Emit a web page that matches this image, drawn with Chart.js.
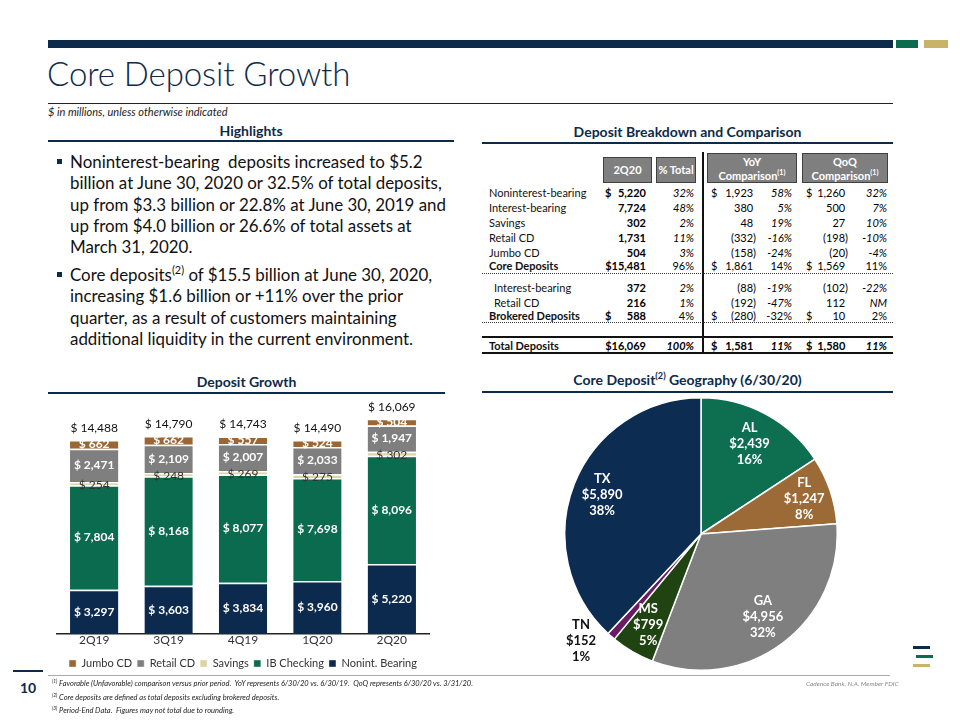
<!DOCTYPE html>
<html><head><meta charset="utf-8">
<script src="https://cdn.jsdelivr.net/npm/chart.js@4.4.1/dist/chart.umd.min.js"></script>
<style>
html,body{margin:0;padding:0;background:#fff;}
body{width:960px;height:720px;position:relative;overflow:hidden;font-family:Lato,"Open Sans",sans-serif;color:#000;}
.abs{position:absolute;}
.h2{font-weight:bold;font-size:14px;color:#0c2a4a;text-align:center;}
.rule{position:absolute;height:2px;background:#0c2a4a;}
#tbl div{position:absolute;font-size:11px;white-space:nowrap;line-height:13px;}
.hb{background:#7f7f7f;color:#fff;border:1px solid #404040;font-weight:bold;font-size:11px;text-align:center;box-sizing:border-box;}
.dot{position:absolute;left:482px;width:411px;border-top:1.5px dotted #333;height:0;}
.bul{position:absolute;left:70px;width:390px;font-size:16.9px;line-height:21.25px;color:#111;white-space:nowrap;}
.bul:before{content:"";position:absolute;left:-13px;top:8px;width:5px;height:5px;background:#0c2a4a;}
sup{font-size:65%;line-height:0;}
.fn{position:absolute;left:52px;font-size:7.5px;font-style:italic;color:#222;}
</style></head>
<body>
<!-- header -->
<div class="abs" style="left:48px;top:40px;width:845px;height:8px;background:#0c2a4a"></div>
<div class="abs" style="left:896px;top:40px;width:22px;height:8px;background:#0a6b4f"></div>
<div class="abs" style="left:924px;top:40px;width:24px;height:8px;background:#c9b36a"></div>
<div class="abs" style="left:47px;top:53px;font-size:33px;color:#0c2a4a;font-weight:300;letter-spacing:-0.1px">Core Deposit Growth</div>
<div class="abs" style="left:48px;top:103px;width:845px;height:1px;background:#222"></div>
<div class="abs" style="left:48px;top:105px;font-size:11px;font-style:italic;color:#222">$ in millions, unless otherwise indicated</div>

<div class="abs h2" style="left:48px;top:122px;width:406px">Highlights</div>
<div class="rule" style="left:48px;top:140px;width:406px"></div>
<div class="abs h2" style="left:482px;top:123px;width:411px">Deposit Breakdown and Comparison</div>
<div class="rule" style="left:482px;top:142px;width:411px"></div>

<div class="bul" style="top:151px">Noninterest-bearing&nbsp; deposits increased to $5.2<br>billion at June 30, 2020 or 32.5% of total deposits,<br>up from $3.3 billion or 22.8% at June 30, 2019 and<br>up from $4.0 billion or 26.6% of total assets at<br>March 31, 2020.</div>
<div class="bul" style="top:264px">Core deposits<sup>(2)</sup> of $15.5 billion at June 30, 2020,<br>increasing $1.6 billion or +11% over the prior<br>quarter, as a result of customers maintaining<br>additional liquidity in the current environment.</div>

<div class="abs h2" style="left:48px;top:373px;width:397px">Deposit Growth</div>
<div class="rule" style="left:48px;top:392px;width:397px"></div>
<div class="abs h2" style="left:482px;top:371px;width:411px">Core Deposit<sup>(2)</sup> Geography (6/30/20)</div>
<div class="rule" style="left:482px;top:391px;width:411px"></div>

<div id="tbl"></div>

<div class="abs" style="left:48px;top:398px;width:397px;height:281px"><canvas id="bar" width="397" height="281"></canvas></div>
<div class="abs" style="left:564px;top:397px;width:274px;height:274px"><canvas id="pie" width="274" height="274"></canvas></div>

<!-- footer -->
<div class="abs" style="left:13px;top:670px;width:30px;height:2px;background:#0c2a4a"></div>
<div class="abs" style="left:48px;top:675px;width:842px;height:1px;background:#aaa"></div>
<div class="abs" style="left:13px;top:679px;width:30px;text-align:center;font-weight:bold;font-size:14px;color:#0c2a4a">10</div>
<div class="fn" style="top:679px"><sup>(1)</sup> Favorable (Unfavorable) comparison versus prior period.&nbsp; YoY represents 6/30/20 vs. 6/30/19.&nbsp; QoQ represents 6/30/20 vs. 3/31/20.</div>
<div class="fn" style="top:693px"><sup>(2)</sup> Core deposits are defined as total deposits excluding brokered deposits.</div>
<div class="fn" style="top:706px"><sup>(3)</sup> Period-End Data.&nbsp; Figures may not total due to rounding.</div>
<div class="abs" style="left:806px;top:680px;font-size:6.5px;font-style:italic;color:#888">Cadence Bank, N.A. Member FDIC</div>
<div class="abs" style="left:913px;top:646px;width:17px;height:3px;background:#0c2a4a"></div>
<div class="abs" style="left:916px;top:655px;width:17px;height:3px;background:#0a6b4f"></div>
<div class="abs" style="left:913px;top:664px;width:17px;height:3px;background:#c9b36a"></div>

<script>
// ---------- DATA ----------
const quarters = ["2Q19","3Q19","4Q19","1Q20","2Q20"];
const nonintBearing = [3297,3603,3834,3960,5220];
const ibChecking   = [7804,8168,8077,7698,8096];
const savings      = [254,248,269,275,302];
const retailCD     = [2471,2109,2007,2033,1947];
const jumboCD      = [662,662,557,524,504];
const totals       = [14488,14790,14743,14490,16069];

const geoStates = ["AL","FL","GA","MS","TN","TX"];
const geoValues = [2439,1247,4956,799,152,5890];
const geoPct    = ["16%","8%","32%","5%","1%","38%"];

const tblLabels = ["Noninterest-bearing","Interest-bearing","Savings","Retail CD","Jumbo CD","Core Deposits","Interest-bearing","Retail CD","Brokered Deposits","Total Deposits"];
const tbl2Q20   = ["5,220","7,724","302","1,731","504","$15,481","372","216","588","$16,069"];
const tblPctTot = ["32%","48%","2%","11%","3%","96%","2%","1%","4%","100%"];
const tblYoY    = ["1,923","380","48","(332)","(158)","1,861","(88)","(192)","(280)","1,581"];
const tblYoYPct = ["58%","5%","19%","-16%","-24%","14%","-19%","-47%","-32%","11%"];
const tblQoQ    = ["1,260","500","27","(198)","(20)","1,569","(102)","112","10","1,580"];
const tblQoQPct = ["32%","7%","10%","-10%","-4%","11%","-22%","NM","2%","11%"];

// ---------- TABLE (HTML) ----------
const T = document.getElementById('tbl');
function add(html, style){const d=document.createElement('div');d.innerHTML=html;d.setAttribute('style',style);T.appendChild(d);return d;}
add('2Q20','left:603px;top:157px;width:49px;height:26px;line-height:24px;').className='hb';
add('% Total','left:656px;top:157px;width:40px;height:26px;line-height:24px;').className='hb';
add('YoY<br>Comparison<sup>(1)</sup>','left:707px;top:153px;width:90px;height:30px;line-height:14px;padding-top:1px;').className='hb';
add('QoQ<br>Comparison<sup>(1)</sup>','left:802px;top:153px;width:86px;height:30px;line-height:14px;padding-top:1px;').className='hb';
add('','left:702px;top:152px;width:1.5px;height:200px;background:#111;');
const rowY = [186,201,216,231,246,259,281,296,309,339];
const boldRow = [false,false,false,false,false,true,false,false,true,true];
const indent = [0,0,0,0,0,0,5,5,0,0];
const dollarRows = [0,8];
const dollarCmp = [0,5,8,9];
for(let i=0;i<tblLabels.length;i++){
  const y=rowY[i], b=boldRow[i]?'font-weight:bold;':'';
  add(tblLabels[i], `left:${489+indent[i]}px;top:${y}px;${b}color:#111;`);
  if(dollarRows.includes(i)) add('$', `left:605px;top:${y}px;font-weight:bold;`);
  add(tbl2Q20[i], `left:588px;width:58px;text-align:right;top:${y}px;font-weight:bold;`);
  const it = (i<5||i>=6&&i<8||i==9)?'font-style:italic;':'';
  add(tblPctTot[i], `left:650px;width:44px;text-align:right;top:${y}px;${it}${i==9?'font-weight:bold;':''}`);
  if(dollarCmp.includes(i)){add('$', `left:711px;top:${y}px;${i==9?'font-weight:bold;':''}`);add('$', `left:806px;top:${y}px;${i==9?'font-weight:bold;':''}`);}
  const paren = s=>s.startsWith('(')? s : s+'&nbsp;';
  add(paren(tblYoY[i]), `left:700px;width:56px;text-align:right;top:${y}px;${i==9?'font-weight:bold;':''}`);
  const it2 = (i==5||i==8)?'':'font-style:italic;';
  add(tblYoYPct[i], `left:760px;width:32px;text-align:right;top:${y}px;${it2}${i==9?'font-weight:bold;':''}`);
  add(paren(tblQoQ[i]), `left:795px;width:53px;text-align:right;top:${y}px;${i==9?'font-weight:bold;':''}`);
  add(tblQoQPct[i], `left:852px;width:35px;text-align:right;top:${y}px;${it2}${i==9?'font-weight:bold;':''}`);
}
[273,322].forEach(y=>{const d=document.createElement('div');d.className='dot';d.style.top=y+'px';T.appendChild(d);});
add('','left:482px;top:336px;width:411px;height:1.5px;background:#111;');
add('','left:482px;top:352px;width:411px;height:1.5px;background:#111;');

// ---------- BAR CHART ----------
const C = {navy:'#0c2a4e', green:'#0a6b4f', beige:'#ddd4a4', gray:'#7f7f7f', brown:'#9c6632'};
const fmt = v => '$ ' + v.toLocaleString('en-US');
const segLabelColor = ['#fff','#fff','#333','#fff','#fff'];
const segLabelBold  = [true,true,false,true,true];
const barLabels = {
  id:'barLabels',
  afterDatasetsDraw(chart){
    const ctx=chart.ctx;
    ctx.save();ctx.textAlign='center';ctx.textBaseline='middle';
    chart.data.datasets.forEach((ds,di)=>{
      const meta=chart.getDatasetMeta(di);
      meta.data.forEach((el,i)=>{
        const yc=(el.y+el.base)/2;
        ctx.font=(segLabelBold[di]?'bold ':'')+'12px Lato, sans-serif';
        ctx.fillStyle=segLabelColor[di];
        ctx.fillText(fmt(ds.data[i]), el.x, yc+(di===2?1:0));
      });
    });
    const top=chart.getDatasetMeta(chart.data.datasets.length-1);
    ctx.font='12px Lato, sans-serif';ctx.fillStyle='#111';
    top.data.forEach((el,i)=>{ctx.fillText(fmt(totals[i]), el.x, el.y-12);});
    ctx.restore();
  }
};
const mk=(label,data,color)=>({label,data,backgroundColor:color,borderColor:'#fff',borderWidth:{top:1.5,bottom:0,left:0,right:0},borderSkipped:false});
new Chart(document.getElementById('bar'),{
  type:'bar',
  data:{labels:quarters,datasets:[
    mk('Nonint. Bearing',nonintBearing,C.navy),
    mk('IB Checking',ibChecking,C.green),
    mk('Savings',savings,C.beige),
    mk('Retail CD',retailCD,C.gray),
    mk('Jumbo CD',jumboCD,C.brown)]},
  options:{
    responsive:false,animation:false,
    layout:{padding:{left:9,right:16,top:7,bottom:0}},
    categoryPercentage:1,barPercentage:0.65,
    plugins:{
      legend:{position:'bottom',reverse:true,labels:{boxWidth:7,boxHeight:7,padding:5,color:'#333',font:{size:11,family:'Lato'}}},
      tooltip:{enabled:false}
    },
    scales:{
      x:{stacked:true,grid:{display:false,drawTicks:false},border:{display:true,color:'#222',width:1.5},
         ticks:{color:'#333',padding:0,font:{size:12,family:'Lato',lineHeight:1}},
         afterFit(s){s.height+=7;}},
      y:{stacked:true,display:false,min:0,max:17100}
    }
  },
  plugins:[barLabels]
});

// ---------- PIE ----------
const pieColors=['#0e6e50','#9c6a36','#7f7f7f','#1f4412','#6b1a63','#0c2c52'];
const pieLabelR=[0.75,0.8,0.76,0.77,1.18,0.78];
const pieShift=[0,0,0,0,7,0];
const pieLabels={
  id:'pieLabels',
  afterDatasetsDraw(chart){
    const ctx=chart.ctx, meta=chart.getDatasetMeta(0);
    ctx.save();ctx.textAlign='center';ctx.textBaseline='middle';ctx.font='bold 13px Lato, sans-serif';
    meta.data.forEach((arc,i)=>{
      const a=(arc.startAngle+arc.endAngle)/2+pieShift[i]*Math.PI/180;
      const r=arc.outerRadius*pieLabelR[i];
      const x=arc.x+Math.cos(a)*r, y=arc.y+Math.sin(a)*r;
      ctx.fillStyle= pieLabelR[i]>1?'#111':'#fff';
      const lines=[geoStates[i],'$'+geoValues[i].toLocaleString('en-US'),geoPct[i]];
      lines.forEach((t,k)=>ctx.fillText(t,x,y+(k-1)*16));
    });
    ctx.restore();
  }
};
new Chart(document.getElementById('pie'),{
  type:'pie',
  data:{labels:geoStates,datasets:[{data:geoValues,backgroundColor:pieColors,borderColor:'#fff',borderWidth:1.5}]},
  options:{responsive:false,animation:false,layout:{padding:0},plugins:{legend:{display:false},tooltip:{enabled:false}}},
  plugins:[pieLabels]
});
</script>
</body></html>
